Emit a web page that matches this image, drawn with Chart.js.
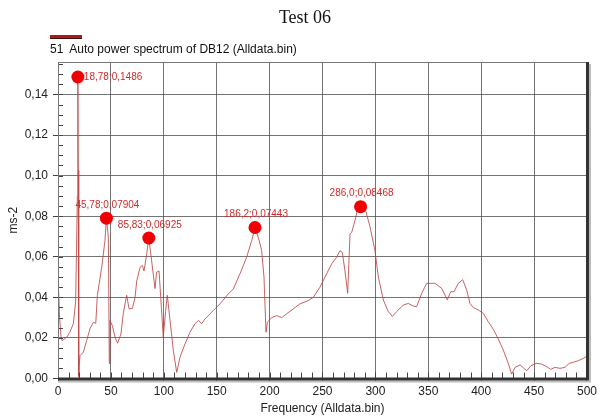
<!DOCTYPE html>
<html>
<head>
<meta charset="utf-8">
<script src="https://cdn.jsdelivr.net/npm/chart.js@4"></script>
<style>
  html, body { margin: 0; padding: 0; background: #fff; }
  #wrap { position: relative; width: 600px; height: 417px; }
  #chart { position: absolute; left: 0; top: 0; }
  #title { position: absolute; top: 7px; left: 0; width: 610px; text-align: center;
           font: 18px "Liberation Serif", "Times New Roman", serif; color: #111; }
  #bar { position: absolute; left: 50px; top: 35px; width: 32px; height: 3px;
         background: #a51c1c; border-bottom: 1px solid #4a0b0b; }
  #sub { position: absolute; left: 50px; top: 42px; white-space: pre;
         font: 12px "Liberation Sans", Arial, sans-serif; color: #111; }
</style>
</head>
<body>
<div id="wrap">
  <canvas id="chart" width="600" height="417"></canvas>
  <div id="title">Test 06</div>
  <div id="bar"></div>
  <div id="sub">51  Auto power spectrum of DB12 (Alldata.bin)</div>
</div>
<script>
// ---- Data ----
const freq = [
  0, 0.5, 1.5, 3, 4, 8.2, 11.2, 14.5, 16.7, 18.3,
  18.78, 19.1, 19.6, 20.1, 20.8, 24, 27.1, 30.3, 33.4, 35.7,
  37.2, 41.3, 44.4, 45.78, 47.6, 48.5, 49.1, 51.4, 53.9, 56.3,
  59.5, 61.7, 64.9, 67.2, 70.3, 72.8, 74.4, 77.6, 79.7, 81.3,
  83.9, 85.83, 88.5, 91.7, 93.2, 95.5, 97.1, 99.5, 101.8, 103.3,
  105.9, 109, 112.2, 115.3, 120, 124.7, 129.5, 132.7, 135.8, 139,
  143.7, 146.8, 153.1, 161, 165.8, 172, 178.3, 183.1, 186.2, 190.2,
  192.5, 194.7, 196.6, 197.9, 201.9, 206.7, 211.4, 216.1, 222.4, 228.7,
  236.6, 241.3, 247.6, 253.9, 258.7, 263.4, 266.5, 268.7, 271.2, 273.8,
  276, 277.6, 280.7, 282.9, 286, 290.2, 294.9, 299.6, 302.8, 307.5,
  312.2, 316, 320.1, 326.4, 331.1, 335.8, 339, 343.8, 348.5, 356.3,
  362.7, 368, 371.2, 374.3, 378.4, 382.5, 386.3, 389.4, 392.5, 397.3,
  402, 406.7, 411.4, 416.2, 420.9, 425.6, 428.8, 432, 436.7, 440.5,
  443, 446.8, 451.8, 457.2, 461.9, 465.7, 469.8, 474.5, 479.2, 483.3,
  487.1, 491.8, 496.5, 500
];
const amp = [
  0.005, 0.044, 0.03, 0.0195, 0.0187, 0.0203, 0.0228, 0.027, 0.038, 0.09,
  0.1486, 0.1025, 0.001, 0.0064, 0.0113, 0.013, 0.0187, 0.0246, 0.0277, 0.0272,
  0.041, 0.0548, 0.068, 0.07904, 0.0696, 0.0074, 0.0286, 0.026, 0.0203, 0.0174,
  0.022, 0.032, 0.041, 0.0343, 0.0345, 0.040, 0.048, 0.0548, 0.0557, 0.053,
  0.0615, 0.06925, 0.058, 0.0443, 0.0524, 0.053, 0.040, 0.0204, 0.0335, 0.041,
  0.0286, 0.0138, 0.003, 0.0105, 0.017, 0.0228, 0.027, 0.0286, 0.027, 0.0294,
  0.0319, 0.0335, 0.0368, 0.0417, 0.0442, 0.0516, 0.0598, 0.068, 0.07443, 0.068,
  0.063, 0.05, 0.0228, 0.0277, 0.030, 0.031, 0.030, 0.0319, 0.0343, 0.0368,
  0.0384, 0.040, 0.045, 0.0516, 0.0565, 0.0598, 0.063, 0.0622, 0.0532, 0.042,
  0.0713, 0.072, 0.0778, 0.0828, 0.08468, 0.084, 0.0748, 0.063, 0.05, 0.0387,
  0.033, 0.0306, 0.033, 0.0362, 0.037, 0.0357, 0.0354, 0.042, 0.0469, 0.0469,
  0.0444, 0.0388, 0.0428, 0.0428, 0.0469, 0.0487, 0.0436, 0.037, 0.035, 0.0338,
  0.0321, 0.028, 0.0243, 0.0194, 0.014, 0.0075, 0.0022, 0.0055, 0.0067, 0.005,
  0.0038, 0.0062, 0.0075, 0.0071, 0.0058, 0.0045, 0.0055, 0.005, 0.0055, 0.0075,
  0.008, 0.0088, 0.0099, 0.011
];

// marked peaks
const peakFreq = [18.78, 45.78, 85.83, 186.2, 286.0];
const peakAmp = [0.1486, 0.07904, 0.06925, 0.07443, 0.08468];
const peakText = ["18,78;0,1486", "45,78;0,07904", "85,83;0,06925", "186,2;0,07443", "286,0;0,08468"];

// ---- Extra drawing: minor ticks, frame, peak labels ----
const decorPlugin = {
  id: "decor",
  afterDraw(chart) {
    const { ctx, chartArea: a, scales: { x, y } } = chart;
    ctx.save();

    // minor ticks inside the frame
    ctx.strokeStyle = "#444";
    ctx.lineWidth = 1;
    ctx.beginPath();
    for (let v = 0; v <= y.max + 1e-9; v += 0.005) {
      const py = Math.round(y.getPixelForValue(v)) + 0.5;
      ctx.moveTo(a.left, py);
      ctx.lineTo(a.left + 5, py);
    }
    for (let f = 0; f <= x.max; f += 10) {
      const px = Math.round(x.getPixelForValue(f)) + 0.5;
      ctx.moveTo(px, a.bottom);
      ctx.lineTo(px, a.bottom - 6);
    }
    ctx.stroke();

    // frame: thin top/left, heavy right/bottom
    ctx.strokeStyle = "#777";
    ctx.beginPath();
    ctx.moveTo(a.left + 0.5, a.bottom);
    ctx.lineTo(a.left + 0.5, a.top + 0.5);
    ctx.lineTo(a.right, a.top + 0.5);
    ctx.stroke();
    ctx.strokeStyle = "#bbb";
    ctx.lineWidth = 2;
    ctx.beginPath();
    ctx.moveTo(a.right + 3, a.top + 2);
    ctx.lineTo(a.right + 3, a.bottom + 3);
    ctx.lineTo(a.left, a.bottom + 3);
    ctx.stroke();
    ctx.strokeStyle = "#333";
    ctx.lineWidth = 3;
    ctx.beginPath();
    ctx.moveTo(a.right + 0.5, a.top);
    ctx.lineTo(a.right + 0.5, a.bottom + 0.5);
    ctx.lineTo(a.left, a.bottom + 0.5);
    ctx.stroke();

    // peak labels
    ctx.fillStyle = "#d02a2a";
    ctx.font = '10px "Liberation Sans", Arial, sans-serif';
    ctx.textBaseline = "middle";
    peakFreq.forEach((f, i) => {
      const px = x.getPixelForValue(f);
      const py = y.getPixelForValue(peakAmp[i]);
      if (py - 13 < a.top + 10) {
        ctx.textAlign = "left";
        ctx.fillText(peakText[i], px + 6, py);
      } else {
        ctx.textAlign = "center";
        ctx.fillText(peakText[i], px + 1, py - 13);
      }
    });
    ctx.restore();
  }
};

const gridColor = "rgba(70,70,70,0.75)";
const tickFont = { family: '"Liberation Sans", Arial, sans-serif', size: 12 };

new Chart(document.getElementById("chart"), {
  type: "line",
  data: {
    datasets: [
      {
        data: peakFreq.map((f, i) => ({ x: f, y: peakAmp[i] })),
        showLine: false,
        pointRadius: 6.5,
        pointBackgroundColor: "#f00000",
        pointBorderWidth: 0,
        order: 0
      },
      {
        data: freq.map((f, i) => ({ x: f, y: amp[i] })),
        borderColor: "rgba(190,70,70,0.85)",
        borderWidth: 1,
        pointRadius: 0,
        tension: 0,
        order: 1
      }
    ]
  },
  options: {
    responsive: false,
    animation: false,
    layout: { padding: { top: 62, right: 12, left: 0, bottom: 0 } },
    plugins: { legend: { display: false }, tooltip: { enabled: false } },
    scales: {
      x: {
        type: "linear",
        min: 0,
        max: 500,
        afterFit(scale) { scale.height = 38.5; },
        ticks: { stepSize: 50, color: "#222", font: tickFont, padding: 3, maxRotation: 0 },
        grid: { color: gridColor, tickColor: "#444", tickLength: 3 },
        border: { display: false },
        title: {
          display: true,
          text: "Frequency (Alldata.bin)",
          color: "#222",
          font: { family: '"Liberation Sans", Arial, sans-serif', size: 12 },
          padding: { top: 0, bottom: 1 }
        }
      },
      y: {
        min: 0,
        max: 0.156,
        afterFit(scale) { scale.width = 58; },
        ticks: {
          stepSize: 0.02,
          includeBounds: false,
          color: "#222",
          font: tickFont,
          padding: 5,
          callback: v => v.toFixed(2).replace(".", ",")
        },
        grid: { color: gridColor, tickColor: "#444", tickLength: 5 },
        border: { display: false },
        title: {
          display: true,
          text: "ms-2",
          color: "#222",
          font: { family: '"Liberation Sans", Arial, sans-serif', size: 12 },
          padding: { top: 6, bottom: 0 }
        }
      }
    }
  },
  plugins: [decorPlugin]
});
</script>
</body>
</html>
